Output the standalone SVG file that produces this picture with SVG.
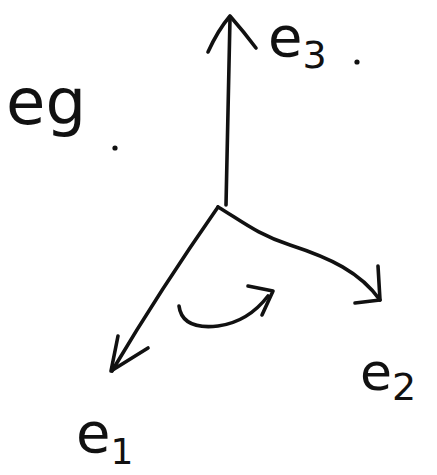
<svg xmlns="http://www.w3.org/2000/svg" width="437" height="475" viewBox="0 0 437 475">
<style>
.s{fill:none;stroke:#111;stroke-width:3.6;stroke-linecap:round;stroke-linejoin:round}
.t{font-family:"DejaVu Sans","Liberation Sans",sans-serif;fill:#111}
</style>
<rect width="437" height="475" fill="#fff"/>
<g id="connectors">
<path class="s" d="M226,205 L230,18"/>
<path class="s" d="M208,52 Q218,30 230,16 Q244,32 256,48"/>
<path class="s" d="M218,207 Q160,290 112,371"/>
<path class="s" d="M118,336 L111,371 L148,348"/>
<path class="s" d="M218,207 C240,220 258,235 290,245 C330,258 360,272 380,300"/>
<path class="s" d="M378,266 L380,300 L355,303"/>
<path class="s" d="M179,306 Q182,330 218,326 Q248,322 268,296"/>
<path class="s" d="M248,286 L273,291 L262,315"/>
</g>
<g id="e3"><text class="t" x="268" y="56" font-size="56">e<tspan font-size="38" dy="12">3</tspan></text><circle cx="357" cy="62" r="2.6" fill="#111"/></g>
<g id="eg"><text class="t" x="6" y="124" font-size="64">eg</text><circle cx="115" cy="148" r="2.6" fill="#111"/></g>
<g id="e2"><text class="t" x="360" y="390" font-size="52">e<tspan font-size="38" dy="10">2</tspan></text></g>
<g id="e1"><text class="t" x="76" y="452" font-size="56">e<tspan font-size="36" dy="12">1</tspan></text></g>
</svg>
